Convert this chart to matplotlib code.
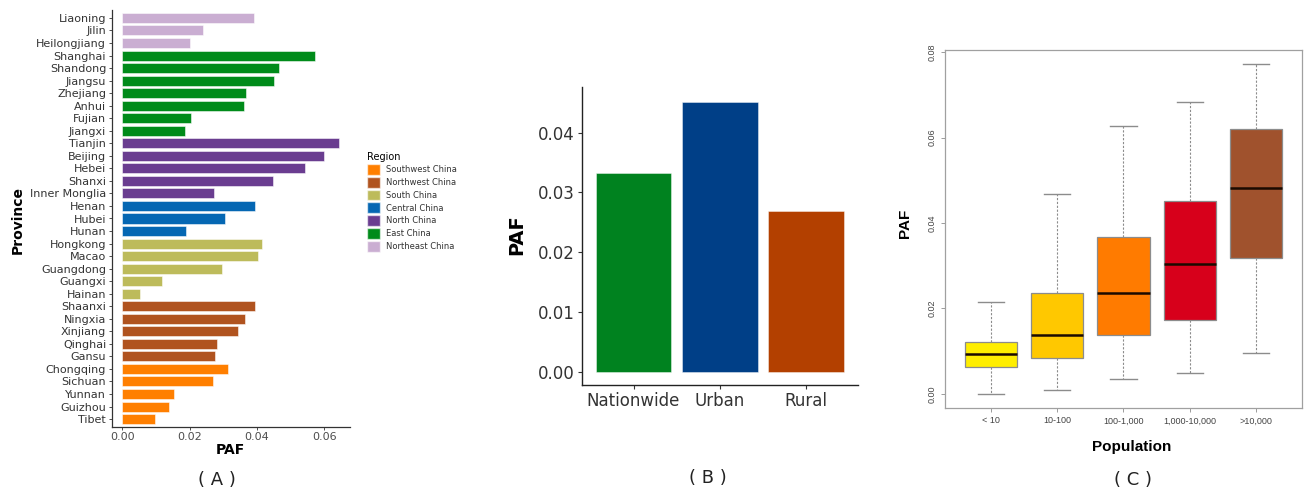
import matplotlib
matplotlib.use('Agg')
import matplotlib.pyplot as plt
from matplotlib.patches import Patch

# Panel A: PAF by province
provinces = ["Liaoning", "Jilin", "Heilongjiang", "Shanghai", "Shandong", "Jiangsu",
             "Zhejiang", "Anhui", "Fujian", "Jiangxi", "Tianjin", "Beijing", "Hebei",
             "Shanxi", "Inner Monglia", "Henan", "Hubei", "Hunan", "Hongkong", "Macao",
             "Guangdong", "Guangxi", "Hainan", "Shaanxi", "Ningxia", "Xinjiang",
             "Qinghai", "Gansu", "Chongqing", "Sichuan", "Yunnan", "Guizhou", "Tibet"]
province_paf = [0.0391, 0.0241, 0.0200, 0.0572, 0.0467, 0.0452, 0.0367, 0.0361, 0.0204,
                0.0186, 0.0644, 0.0599, 0.0544, 0.0449, 0.0272, 0.0394, 0.0304, 0.0188,
                0.0415, 0.0403, 0.0296, 0.0118, 0.0053, 0.0394, 0.0364, 0.0343, 0.0281,
                0.0274, 0.0313, 0.0270, 0.0152, 0.0139, 0.0098]
province_region = (["Northeast China"] * 3 + ["East China"] * 7 + ["North China"] * 5 +
                   ["Central China"] * 3 + ["South China"] * 5 + ["Northwest China"] * 5 +
                   ["Southwest China"] * 5)
regions = ["Southwest China", "Northwest China", "South China", "Central China",
           "North China", "East China", "Northeast China"]
region_colors = {"Southwest China": "#FF7F00", "Northwest China": "#B0531F",
                 "South China": "#BDBB5B", "Central China": "#0567B3",
                 "North China": "#6A3D90", "East China": "#008B1A",
                 "Northeast China": "#CAAED2"}

# Panel B: PAF by area
areas = ["Nationwide", "Urban", "Rural"]
area_paf = [0.0332, 0.0452, 0.0268]
area_colors = ["#00821F", "#003F87", "#B34000"]

# Panel C: PAF by population size (boxplot summary)
pop_groups = ["< 10", "10-100", "100-1,000", "1,000-10,000", ">10,000"]
whisker_low = [0.0000, 0.0009, 0.0035, 0.0048, 0.0096]
q1 = [0.0062, 0.0085, 0.0137, 0.0173, 0.0317]
median = [0.0094, 0.0138, 0.0236, 0.0304, 0.0482]
q3 = [0.0122, 0.0237, 0.0367, 0.0452, 0.0620]
whisker_high = [0.0216, 0.0467, 0.0628, 0.0684, 0.0773]
pop_colors = ["#FFEE00", "#FFC800", "#FF7B00", "#D7001B", "#A0522D"]

W, H = 1304, 494
fig = plt.figure(figsize=(W / 100, H / 100), dpi=100)
plt.rcParams['font.family'] = ['DejaVu Sans']


def frac(left, top, right, bottom):
    return [left / W, 1 - bottom / H, (right - left) / W, (bottom - top) / H]


# ---- Panel A ----
axA = fig.add_axes(frac(111.7, 10.4, 350, 426.6))
ypos = list(range(len(provinces)))
axA.barh(ypos, province_paf, height=0.8,
         color=[region_colors[r] for r in province_region],
         edgecolor=(1, 1, 1, 0.6), linewidth=0.6)
axA.set_yticks(ypos)
axA.set_yticklabels(provinces, fontsize=8, color="#333333")
axA.set_ylim(len(provinces) - 0.4, -0.6)
axA.set_xlim(-0.0032, 0.0677)
axA.set_xticks([0, 0.02, 0.04, 0.06])
axA.set_xticklabels(["0.00", "0.02", "0.04", "0.06"], fontsize=8, color="#4d4d4d")
axA.tick_params(axis='both', length=2.5, width=0.6, color="#333333", pad=1.5)
for side in ["top", "right"]:
    axA.spines[side].set_visible(False)
for side in ["left", "bottom"]:
    axA.spines[side].set_linewidth(0.9)
    axA.spines[side].set_color("#333333")
fig.text(18 / W, 1 - 220 / H, "Province", rotation=90, fontsize=10, fontweight='bold',
         ha='center', va='center')
fig.text(230 / W, 1 - 450 / H, "PAF", fontsize=10, fontweight='bold', ha='center', va='center')
fig.text(217 / W, 1 - 480 / H, "( A )", fontsize=13, ha='center', va='center', color="#222222")

handles = [Patch(facecolor=region_colors[r], edgecolor=(1, 1, 1, 0.6), label=r) for r in regions]
leg = fig.legend(handles=handles, title="Region", loc='upper left',
                 bbox_to_anchor=(367 / W, 1 - 152 / H), frameon=False,
                 fontsize=6, title_fontsize=7, handlelength=1.6, handleheight=1.6,
                 labelspacing=0.25, handletextpad=0.7, borderaxespad=0, borderpad=0)
leg._legend_box.align = "left"
for t in leg.get_texts():
    t.set_color("#333333")

# ---- Panel B ----
axB = fig.add_axes(frac(581.7, 86.7, 858, 385))
xpos = [1, 2, 3]
axB.bar(xpos, area_paf, width=0.88, color=area_colors, edgecolor=(1, 1, 1, 0.5), linewidth=0.6)
axB.set_xlim(0.4, 3.6)
axB.set_ylim(-0.00226, 0.0477)
axB.set_xticks(xpos)
axB.set_xticklabels(areas, fontsize=12, color="#333333")
axB.set_yticks([0, 0.01, 0.02, 0.03, 0.04])
axB.set_yticklabels(["0.00", "0.01", "0.02", "0.03", "0.04"], fontsize=12, color="#333333")
axB.tick_params(axis='both', length=3, width=0.8, color="#333333", pad=2)
for side in ["top", "right"]:
    axB.spines[side].set_visible(False)
for side in ["left", "bottom"]:
    axB.spines[side].set_linewidth(1.0)
    axB.spines[side].set_color("#222222")
fig.text(517 / W, 1 - 235 / H, "PAF", rotation=90, fontsize=14, fontweight='bold',
         ha='center', va='center')
fig.text(708 / W, 1 - 478 / H, "( B )", fontsize=13, ha='center', va='center', color="#222222")

# ---- Panel C ----
axC = fig.add_axes(frac(945, 50, 1302, 408))
stats = []
for i, g in enumerate(pop_groups):
    stats.append({"label": g, "whislo": whisker_low[i], "q1": q1[i], "med": median[i],
                  "q3": q3[i], "whishi": whisker_high[i], "fliers": []})
bp = axC.bxp(stats, positions=[1, 2, 3, 4, 5], widths=0.79, patch_artist=True,
             showfliers=False,
             boxprops=dict(edgecolor="#8c8c8c", linewidth=0.9),
             whiskerprops=dict(color="#8c8c8c", linestyle=(0, (2, 1.5)), linewidth=0.8),
             capprops=dict(color="#8c8c8c", linewidth=1.0),
             medianprops=dict(color="#1a0a00", linewidth=1.8))
for box, c in zip(bp["boxes"], pop_colors):
    box.set_facecolor(c)
for cap in bp["caps"]:
    x0, x1 = cap.get_xdata()
    mid = (x0 + x1) / 2
    cap.set_xdata([mid - 0.2, mid + 0.2])
axC.set_xlim(0.31, 5.69)
axC.set_ylim(-0.0033, 0.0805)
axC.set_yticks([0, 0.02, 0.04, 0.06, 0.08])
axC.set_yticklabels(["0.00", "0.02", "0.04", "0.06", "0.08"], fontsize=6.5,
                    rotation=90, va='center', color="#444444", family="Liberation Sans")
axC.set_xticklabels(pop_groups, fontsize=6.5, color="#444444", family="Liberation Sans")
axC.tick_params(axis='both', length=3, width=0.6, color="#8c8c8c", pad=3)
for side in ["top", "right", "left", "bottom"]:
    axC.spines[side].set_linewidth(0.9)
    axC.spines[side].set_color("#a0a0a0")
fig.text(905 / W, 1 - 223 / H, "PAF", rotation=90, fontsize=11, fontweight='bold',
         ha='center', va='center', family="Liberation Sans")
fig.text(1132 / W, 1 - 447 / H, "Population", fontsize=11, fontweight='bold',
         ha='center', va='center', family="Liberation Sans")
fig.text(1133 / W, 1 - 480 / H, "( C )", fontsize=13, ha='center', va='center', color="#222222")

fig.savefig("out.png", dpi=100)
plt.close(fig)
